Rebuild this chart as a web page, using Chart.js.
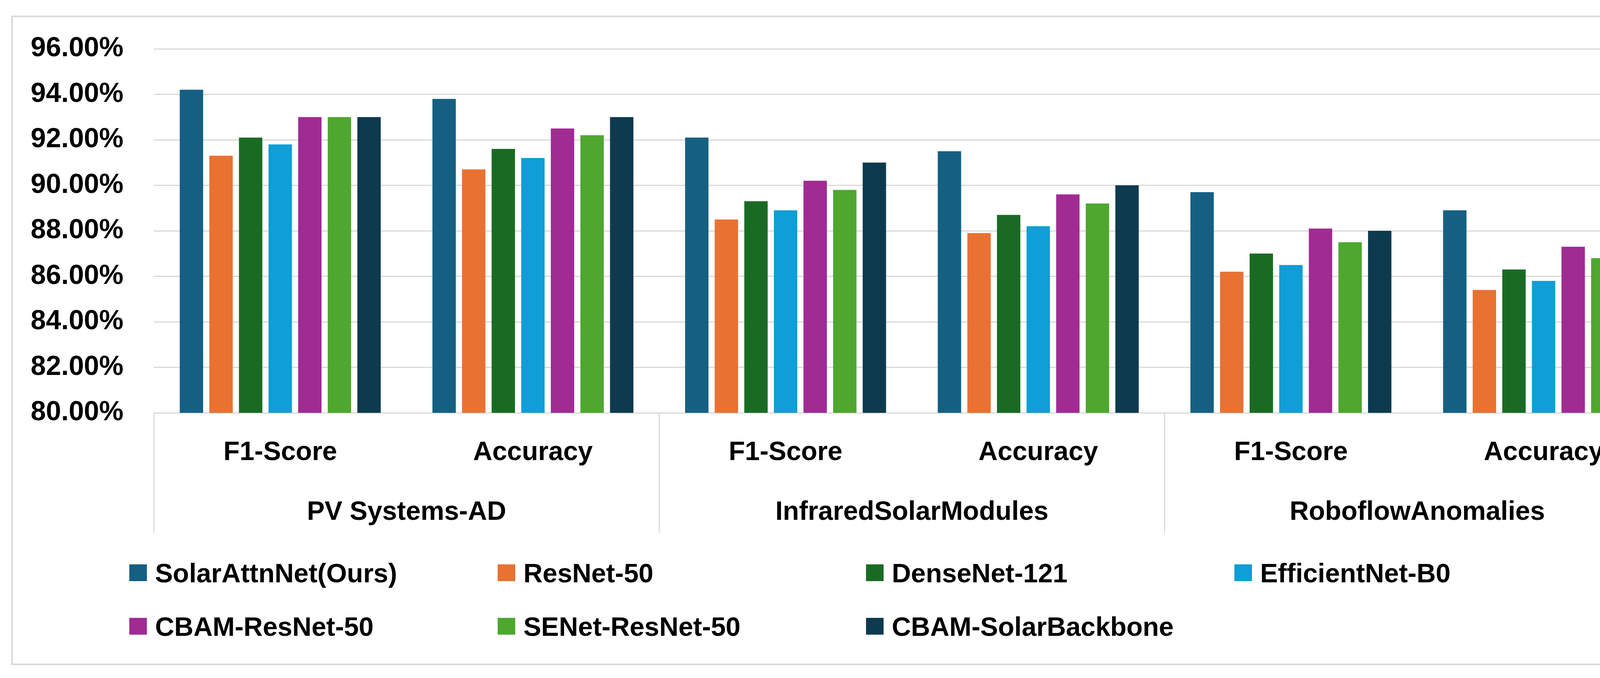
<!DOCTYPE html>
<html>
<head>
<meta charset="utf-8">
<script src="https://cdn.jsdelivr.net/npm/chart.js@4.4.1/dist/chart.umd.min.js"></script>
<style>
    html, body { margin: 0; padding: 0; background: #fff; }
    #wrap { position: relative; width: 4386px; height: 1736px; }
    #chart { position: absolute; left: 0; top: 0; }
    #legend {
        position: absolute; left: 331px; top: 1398px;
        display: grid; grid-template-columns: repeat(4, 943px); grid-auto-rows: 137px;
        font-family: "Liberation Sans", Arial, sans-serif; font-weight: bold; font-size: 68px; color: #000;
    }
    .item { display: flex; align-items: center; white-space: nowrap; }
    .box { width: 45px; height: 43px; margin-right: 21px; flex: none; }
</style>
</head>
<body>
<div id="wrap">
    <canvas id="chart" width="4386" height="1736"></canvas>
    <div id="legend"></div>
</div>
<script>
const metrics = ['F1-Score', 'Accuracy', 'F1-Score', 'Accuracy', 'F1-Score', 'Accuracy'];
const datasetsNames = ['PV Systems-AD', 'InfraredSolarModules', 'RoboflowAnomalies'];
const yTicks = [80, 82, 84, 86, 88, 90, 92, 94, 96];

const models = ['SolarAttnNet(Ours)', 'ResNet-50', 'DenseNet-121', 'EfficientNet-B0',
    'CBAM-ResNet-50', 'SENet-ResNet-50', 'CBAM-SolarBackbone'];
const colors = ['#156082', '#E97132', '#196B24', '#0F9ED5', '#A02B93', '#4EA72E', '#0D3A4E'];

const solarAttnNet = [94.2, 93.8, 92.1, 91.5, 89.7, 88.9];
const resNet50 = [91.3, 90.7, 88.5, 87.9, 86.2, 85.4];
const denseNet121 = [92.1, 91.6, 89.3, 88.7, 87.0, 86.3];
const efficientNetB0 = [91.8, 91.2, 88.9, 88.2, 86.5, 85.8];
const cbamResNet50 = [93.0, 92.5, 90.2, 89.6, 88.1, 87.3];
const seNetResNet50 = [93.0, 92.2, 89.8, 89.2, 87.5, 86.8];
const cbamSolarBackbone = [93.0, 93.0, 91.0, 90.0, 88.0, 88.0];

const seriesValues = [solarAttnNet, resNet50, denseNet121, efficientNetB0,
    cbamResNet50, seNetResNet50, cbamSolarBackbone];

const FONT = '"Liberation Sans", Arial, sans-serif';
const GRID = '#d9d9d9';

// outer frame like the Excel chart area
const framePlugin = {
    id: 'frame',
    beforeDraw(chart) {
        const ctx = chart.ctx;
        ctx.save();
        ctx.fillStyle = '#fff';
        ctx.fillRect(0, 0, chart.width, chart.height);
        ctx.strokeStyle = GRID;
        ctx.lineWidth = 4;
        ctx.strokeRect(31, 42, 4317, 1659);
        ctx.restore();
    }
};

// vertical separators between the dataset groups under the axis
const groupLines = {
    id: 'groupLines',
    afterDraw(chart) {
        const x2 = chart.scales.x2;
        const ctx = chart.ctx;
        ctx.save();
        ctx.strokeStyle = GRID;
        ctx.lineWidth = 3;
        for (let i = 0; i <= datasetsNames.length; i++) {
            const x = x2.getPixelForValue(i - 0.5);
            ctx.beginPath();
            ctx.moveTo(x, chart.chartArea.bottom);
            ctx.lineTo(x, x2.bottom);
            ctx.stroke();
        }
        ctx.restore();
    }
};

const chart = new Chart(document.getElementById('chart').getContext('2d'), {
    type: 'bar',
    data: {
        labels: metrics,
        datasets: models.map((m, i) => ({
            label: m,
            data: seriesValues[i],
            backgroundColor: colors[i],
            borderWidth: 0,
            barPercentage: 0.79,
            categoryPercentage: 0.82
        }))
    },
    options: {
        responsive: false,
        animation: false,
        devicePixelRatio: 1,
        layout: { padding: { left: 40, top: 125, right: 111, bottom: 372 } },
        scales: {
            y: {
                min: 80,
                max: 96,
                afterBuildTicks: (s) => { s.ticks = yTicks.map(v => ({ value: v })); },
                afterFit: (s) => { s.width = 354; },
                border: { display: false },
                grid: { color: GRID, lineWidth: 3, drawTicks: false },
                ticks: {
                    padding: 78,
                    color: '#000',
                    font: { family: FONT, size: 70, weight: 'bold' },
                    callback: (v) => v.toFixed(2) + '%'
                }
            },
            x: {
                weight: 0,
                afterFit: (s) => { s.height = 143; },
                border: { display: true, color: GRID, width: 3 },
                grid: { display: false, drawTicks: false },
                ticks: {
                    padding: 61,
                    maxRotation: 0,
                    autoSkip: false,
                    color: '#000',
                    font: { family: FONT, size: 68, weight: 'bold', lineHeight: 1.2 }
                }
            },
            x2: {
                type: 'category',
                position: 'bottom',
                weight: 1,
                labels: datasetsNames,
                offset: true,
                afterFit: (s) => { s.height = 164; },
                border: { display: false },
                grid: { display: false, drawTicks: false },
                ticks: {
                    padding: 71,
                    maxRotation: 0,
                    autoSkip: false,
                    color: '#000',
                    font: { family: FONT, size: 68, weight: 'bold', lineHeight: 1.2 }
                }
            }
        },
        plugins: {
            legend: { display: false },
            tooltip: { enabled: false }
        }
    },
    plugins: [framePlugin, groupLines]
});

// legend in Excel-like fixed columns
const legendEl = document.getElementById('legend');
chart.data.datasets.forEach(ds => {
    const item = document.createElement('div');
    item.className = 'item';
    const box = document.createElement('span');
    box.className = 'box';
    box.style.background = ds.backgroundColor;
    const txt = document.createElement('span');
    txt.textContent = ds.label;
    item.appendChild(box);
    item.appendChild(txt);
    legendEl.appendChild(item);
});
</script>
</body>
</html>
